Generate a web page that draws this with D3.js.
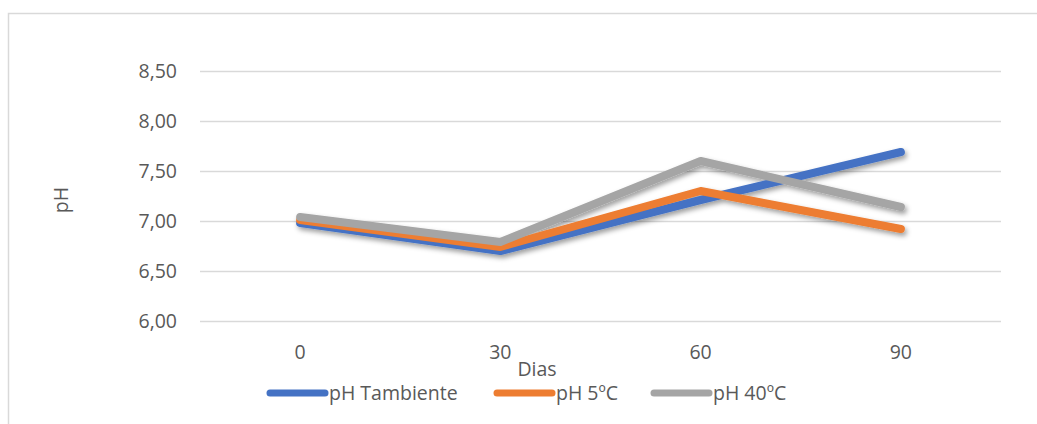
<!DOCTYPE html>
<html>
<head>
<meta charset="utf-8">
<script src="https://cdn.jsdelivr.net/npm/d3@7"></script>
<style>
  html, body { margin: 0; padding: 0; background: #fff; }
  svg { display: block; font-family: "Open Sans", Lato, sans-serif; }
</style>
</head>
<body>
<svg id="chart" width="1037" height="424"></svg>
<script>
// Days of measurement
const dias = ["0", "30", "60", "90"];
// pH readings per storage condition
const phTambiente = [6.98, 6.70, 7.21, 7.69];
const ph5C = [7.01, 6.74, 7.30, 6.92];
const ph40C = [7.04, 6.79, 7.60, 7.14];
// Y axis ticks
const yTicks = [6.0, 6.5, 7.0, 7.5, 8.0, 8.5];
const seriesNames = ["pH Tambiente", "pH 5ºC", "pH 40ºC"];
const seriesColors = ["#4472C4", "#ED7D31", "#A5A5A5"];

const series = [phTambiente, ph5C, ph40C].map((values, i) => ({
  name: seriesNames[i], color: seriesColors[i], values
}));

const FONT = "'Open Sans', Lato, sans-serif";
const TEXT = "#595959";
const FS = 19.5;

const svg = d3.select("#chart");
const plot = { left: 200, right: 1001, top: 71, bottom: 321 };

// Chart frame
svg.append("rect")
  .attr("x", 8.5).attr("y", 13.5)
  .attr("width", 1100).attr("height", 500)
  .attr("fill", "none").attr("stroke", "#d9d9d9").attr("stroke-width", 1.5);

const x = d3.scaleBand().domain(dias).range([plot.left, plot.right]);
const y = d3.scaleLinear().domain([6, 8.5]).range([plot.bottom, plot.top]);

// Shadow under the lines
const defs = svg.append("defs");
const f = defs.append("filter").attr("id", "shadow")
  .attr("x", "-10%").attr("y", "-30%").attr("width", "120%").attr("height", "160%");
f.append("feDropShadow")
  .attr("dx", 2).attr("dy", 3).attr("stdDeviation", 2.5)
  .attr("flood-color", "#000").attr("flood-opacity", 0.38);

// Horizontal gridlines
const grid = d3.axisLeft(y).tickValues(yTicks).tickSize(-(plot.right - plot.left)).tickFormat("");
svg.append("g")
  .attr("transform", `translate(${plot.left},0)`)
  .call(grid)
  .call(g => g.select(".domain").remove())
  .call(g => g.selectAll("line").attr("stroke", "#d9d9d9").attr("stroke-width", 1.5));

// Y tick labels
const fmt = v => d3.format(".2f")(v).replace(".", ",");
svg.append("g")
  .attr("transform", `translate(${plot.left - 23},0)`)
  .call(d3.axisLeft(y).tickValues(yTicks).tickSize(0).tickPadding(0).tickFormat(fmt))
  .call(g => g.select(".domain").remove())
  .call(g => g.selectAll("text")
    .attr("fill", TEXT).attr("font-size", FS).attr("font-family", FONT));

// X tick labels
svg.append("g")
  .attr("transform", `translate(0,${plot.bottom})`)
  .call(d3.axisBottom(x).tickSize(0).tickPadding(24))
  .call(g => g.select(".domain").remove())
  .call(g => g.selectAll("text")
    .attr("fill", TEXT).attr("font-size", FS).attr("font-family", FONT));

// Axis titles
svg.append("text")
  .attr("x", 537).attr("y", 376)
  .attr("text-anchor", "middle")
  .attr("fill", TEXT).attr("font-size", FS)
  .text("Dias");
svg.append("text")
  .attr("transform", "translate(68,200) rotate(-90)")
  .attr("text-anchor", "middle")
  .attr("fill", TEXT).attr("font-size", FS)
  .text("pH");

// Series lines
const line = d3.line()
  .x((d, i) => x(dias[i]) + x.bandwidth() / 2)
  .y(d => y(d));

svg.append("g").attr("filter", "url(#shadow)")
  .selectAll("path")
  .data(series)
  .join("path")
  .attr("d", d => line(d.values))
  .attr("fill", "none")
  .attr("stroke", d => d.color)
  .attr("stroke-width", 8)
  .attr("stroke-linecap", "round")
  .attr("stroke-linejoin", "round");

// Legend
const legendX = [270, 497, 654];
const lg = svg.append("g")
  .selectAll("g")
  .data(series)
  .join("g")
  .attr("transform", (d, i) => `translate(${legendX[i]},393)`);
lg.append("line")
  .attr("x1", 0).attr("x2", 55).attr("y1", 0).attr("y2", 0)
  .attr("stroke", d => d.color).attr("stroke-width", 7)
  .attr("stroke-linecap", "round");
lg.append("text")
  .attr("x", 59).attr("y", 0).attr("dy", "0.35em")
  .attr("fill", TEXT).attr("font-size", FS)
  .text(d => d.name);
</script>
</body>
</html>
